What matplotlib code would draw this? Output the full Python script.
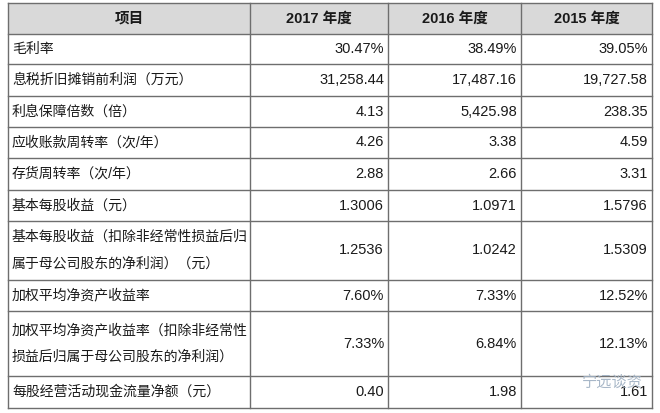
import matplotlib
matplotlib.use("Agg")
import matplotlib.pyplot as plt
from matplotlib.patches import Rectangle

plt.rcParams["font.family"] = ["Liberation Sans", "Noto Sans CJK SC"]

# --- data ---
headers = ["项目", "2017 年度", "2016 年度", "2015 年度"]
items = [
    "毛利率",
    "息税折旧摊销前利润（万元）",
    "利息保障倍数（倍）",
    "应收账款周转率（次/年）",
    "存货周转率（次/年）",
    "基本每股收益（元）",
    "基本每股收益（扣除非经常性损益后归\n属于母公司股东的净利润）（元）",
    "加权平均净资产收益率",
    "加权平均净资产收益率（扣除非经常性\n损益后归属于母公司股东的净利润）",
    "每股经营活动现金流量净额（元）",
]
y2017 = ["30.47%", "31,258.44", "4.13", "4.26", "2.88", "1.3006", "1.2536", "7.60%", "7.33%", "0.40"]
y2016 = ["38.49%", "17,487.16", "5,425.98", "3.38", "2.66", "1.0971", "1.0242", "7.33%", "6.84%", "1.98"]
y2015 = ["39.05%", "19,727.58", "238.35", "4.59", "3.31", "1.5796", "1.5309", "12.52%", "12.13%", "1.61"]

# --- layout (pixel coords) ---
W, H = 660, 413
col_x = [8, 250, 388, 521, 652]
row_y = [3, 34, 64, 96, 127, 158, 190, 221, 280, 311, 376, 408]

fig = plt.figure(figsize=(6.6, 4.13), dpi=100)
ax = fig.add_axes([0, 0, 1, 1])
ax.set_xlim(0, W)
ax.set_ylim(H, 0)
ax.axis("off")

line_c = "#6e6e6e"
ax.add_patch(Rectangle((col_x[0], row_y[0]), col_x[-1] - col_x[0], row_y[1] - row_y[0],
                       facecolor="#d9d9d9", edgecolor="none"))
for y in row_y:
    ax.plot([col_x[0], col_x[-1]], [y, y], color=line_c, lw=1)
for x in col_x:
    ax.plot([x, x], [row_y[0], row_y[-1]], color=line_c, lw=1)

# header
for i, h in enumerate(headers):
    cx = (col_x[i] + col_x[i + 1]) / 2
    ax.text(cx, (row_y[0] + row_y[1]) / 2, h, ha="center", va="center",
            fontsize=10.5, fontweight="bold", color="#1a1a1a")

# body
for r, item in enumerate(items):
    cy = (row_y[r + 1] + row_y[r + 2]) / 2
    ax.text(col_x[0] + 4, cy, item, ha="left", va="center", fontsize=10,
            color="#1a1a1a", linespacing=2.2)
    for c, vals in enumerate([y2017, y2016, y2015]):
        ax.text(col_x[c + 2] - 4, cy, vals[r], ha="right", va="center",
                fontsize=10.5, color="#1a1a1a")

# watermark
ax.text(643, 383, "宁远谈资", ha="right", va="center", fontsize=11, color="#9fb0c2", alpha=0.9)

fig.savefig("out.png", dpi=100)
